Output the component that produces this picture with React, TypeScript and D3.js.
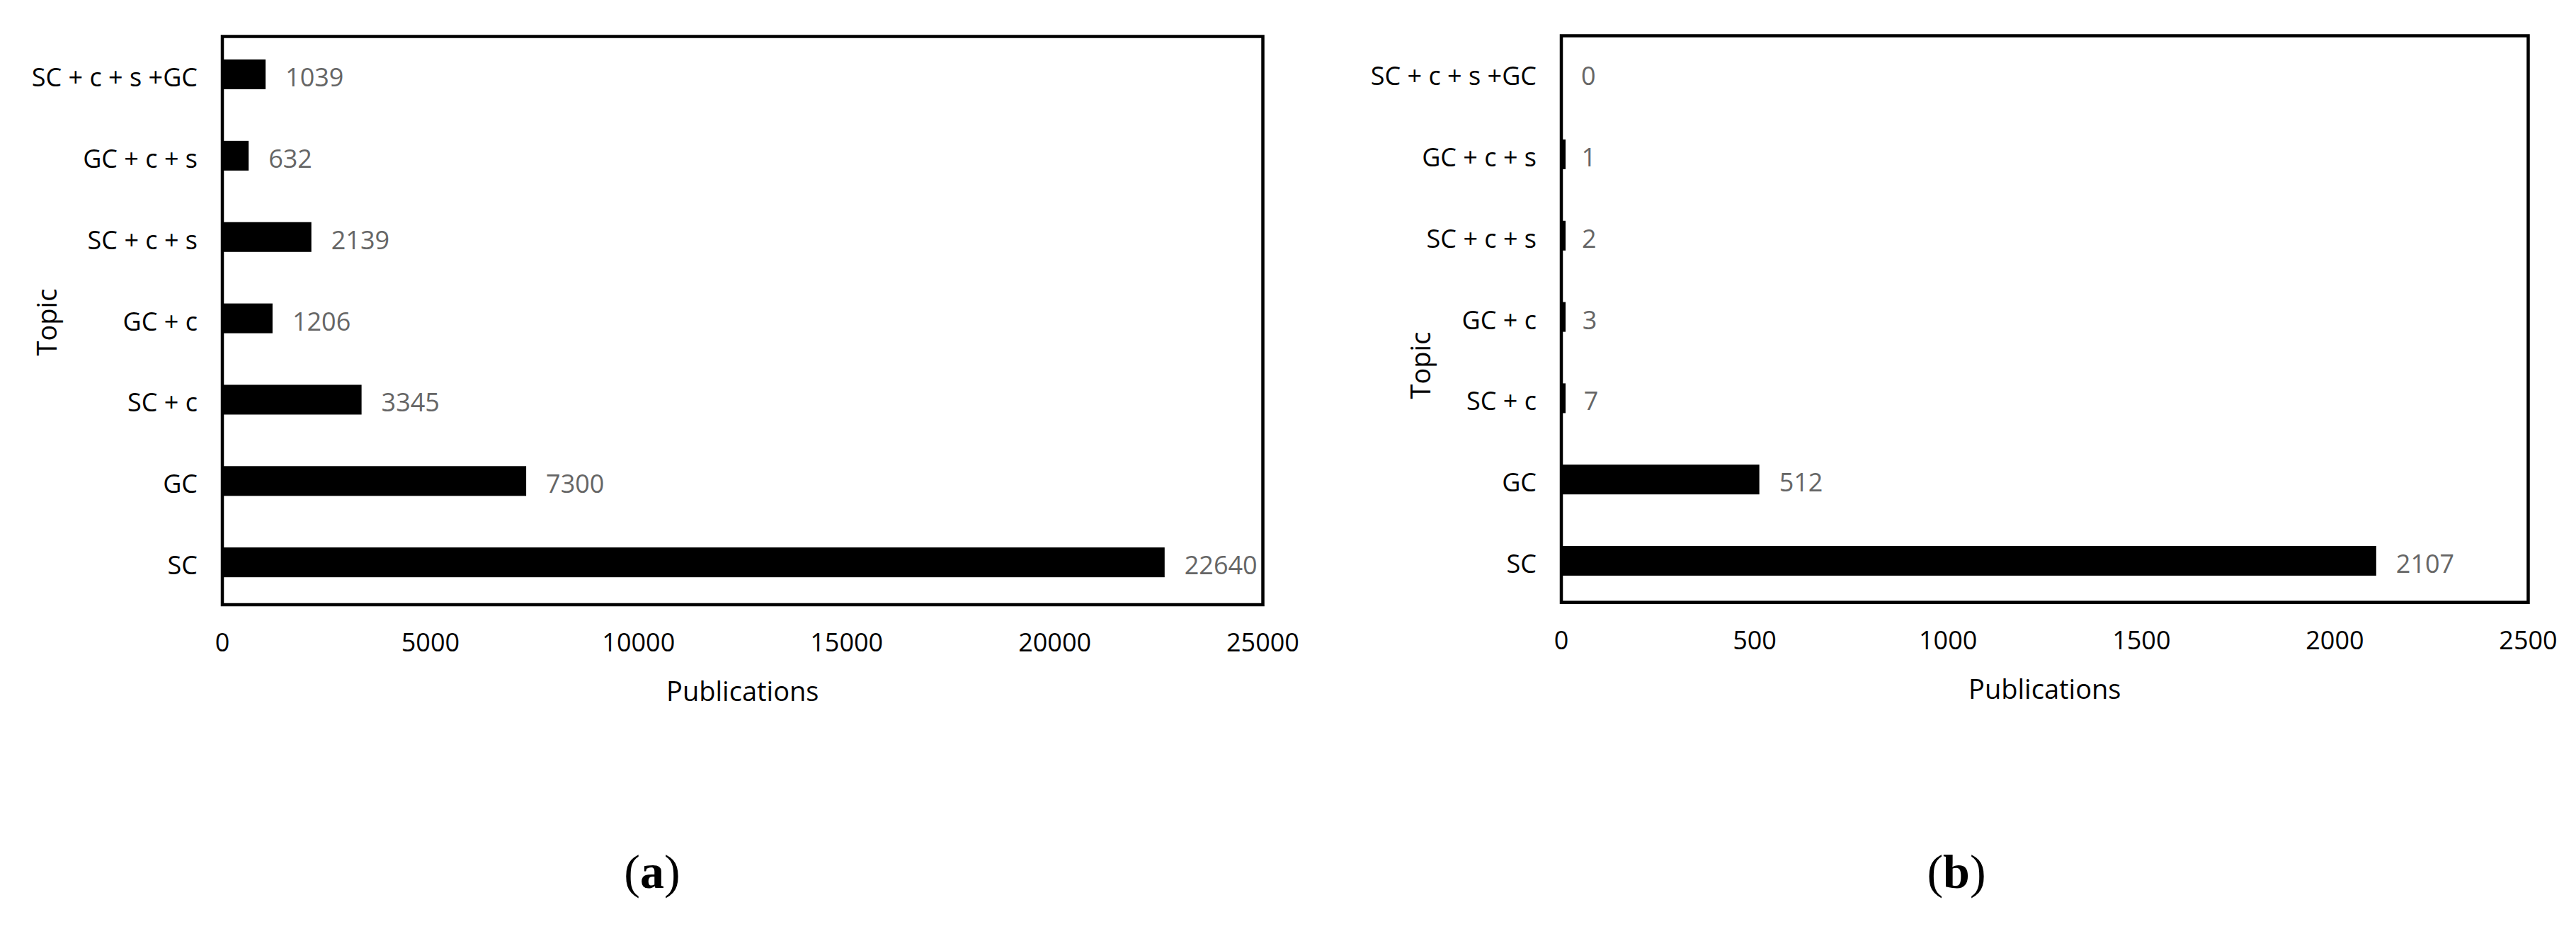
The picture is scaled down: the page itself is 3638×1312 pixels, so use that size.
import React from "react";
import * as d3 from "d3";

const categories = ["SC", "GC", "SC + c", "GC + c", "SC + c + s", "GC + c + s", "SC + c + s +GC"];
const valuesA = [22640, 7300, 3345, 1206, 2139, 632, 1039];
const valuesB = [2107, 512, 7, 3, 2, 1, 0];
const ticksA = [0, 5000, 10000, 15000, 20000, 25000];
const ticksB = [0, 500, 1000, 1500, 2000, 2500];

const W = 3638;
const H = 1312;
const FONT = "'Open Sans', 'Noto Sans', sans-serif";

type PanelProps = {
  values: number[];
  ticks: number[];
  max: number;
  x0: number;
  x1: number;
  yTop: number;
  yBot: number;
  bandTop: number;
  bandBot: number;
  tickBase: number;
  titleBase: number;
  topicX: number;
  topicY: number;
  caption: string;
  captionX: number;
};

function Panel(p: PanelProps) {
  const x = d3.scaleLinear().domain([0, p.max]).range([p.x0, p.x1]);
  const rev = categories.slice().reverse();
  const y = d3
    .scaleBand<string>()
    .domain(rev)
    .range([p.bandTop, p.bandBot])
    .paddingInner(0.634)
    .paddingOuter(0.317);
  const bw = y.bandwidth();
  return (
    <g>
      {categories.map((c, i) => {
        const yc = (y(c) as number) + bw / 2;
        const v = p.values[i];
        const wBar = x(v) - x(0);
        const shown = v > 0 ? Math.max(wBar, 6) : 0;
        return (
          <g key={c}>
            <rect x={x(0)} y={yc - bw / 2} width={shown} height={bw} fill="#000" />
            <text x={x(v) + 28} y={yc + 17} fontSize={36} fill="#666" fontFamily={FONT}>
              {v}
            </text>
            <text x={p.x0 - 35} y={yc + 17} fontSize={36} fill="#000" textAnchor="end" fontFamily={FONT}>
              {c}
            </text>
          </g>
        );
      })}
      <rect
        x={p.x0}
        y={p.yTop}
        width={p.x1 - p.x0}
        height={p.yBot - p.yTop}
        fill="none"
        stroke="#000"
        strokeWidth={4.5}
      />
      {p.ticks.map((t) => (
        <text key={t} x={x(t)} y={p.tickBase} fontSize={36} textAnchor="middle" fill="#000" fontFamily={FONT}>
          {t}
        </text>
      ))}
      <text x={(p.x0 + p.x1) / 2} y={p.titleBase} fontSize={38} textAnchor="middle" fill="#000" fontFamily={FONT}>
        Publications
      </text>
      <text
        transform={`translate(${p.topicX},${p.topicY}) rotate(-90)`}
        fontSize={38}
        textAnchor="middle"
        fill="#000"
        fontFamily={FONT}
      >
        Topic
      </text>
      <text x={p.captionX} y={1254} fontSize={68} textAnchor="middle" fill="#000" fontFamily="'Liberation Serif', 'Times New Roman', serif">
        (<tspan fontWeight="bold">{p.caption}</tspan>)
      </text>
    </g>
  );
}

export default function App() {
  return (
    <svg
      width={W}
      height={H}
      viewBox={`0 0 ${W} ${H}`}
      style={{ position: "absolute", left: 0, top: 0, background: "#fff" }}
    >
      <rect x={0} y={0} width={W} height={H} fill="#fff" />
      <Panel
        values={valuesA}
        ticks={ticksA}
        max={25000}
        x0={314}
        x1={1783.5}
        yTop={51.5}
        yBot={854}
        bandTop={47.6}
        bandBot={851.6}
        tickBase={920}
        titleBase={990}
        topicX={80}
        topicY={455}
        caption="a"
        captionX={921}
      />
      <Panel
        values={valuesB}
        ticks={ticksB}
        max={2500}
        x0={2205}
        x1={3570.5}
        yTop={50.5}
        yBot={850.7}
        bandTop={45.8}
        bandBot={849.4}
        tickBase={917}
        titleBase={987}
        topicX={2020}
        topicY={516}
        caption="b"
        captionX={2763}
      />
    </svg>
  );
}
